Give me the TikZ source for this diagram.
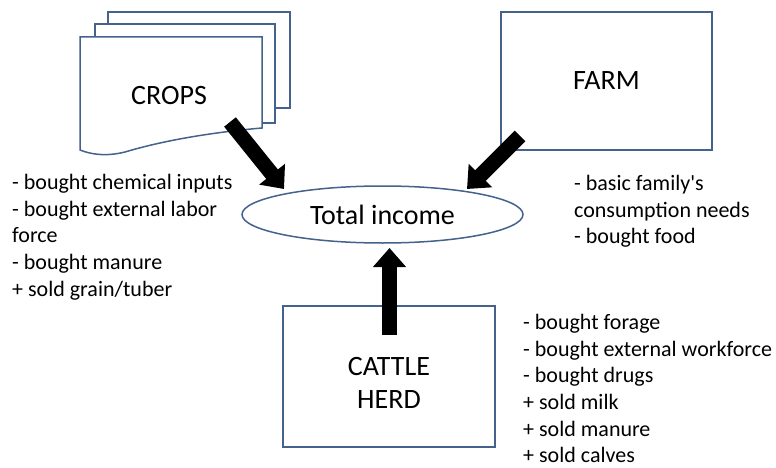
\documentclass[tikz,border=0pt]{standalone}
\usepackage{fontspec}
\setmainfont{Carlito}
\usepackage{xcolor}
\usepackage{tikz}
\usetikzlibrary{positioning, arrows.meta, shapes.geometric}

\definecolor{boxblue}{RGB}{68,98,140}

\begin{document}
\begin{tikzpicture}[x=1pt, y=-1pt,
    every node/.style={font=\fontsize{28}{33}\selectfont},
    box/.style={draw=boxblue, line width=1.5pt, fill=white},
    listtext/.style={anchor=north west, inner sep=0pt, align=left, font=\fontsize{22}{26.7}\selectfont},
    bigarrow/.style={line width=15pt, -{Triangle[width=32pt, length=19pt]}}]
    \useasboundingbox (0,0) rectangle (776,468);

    % stacked crop sheets
    \draw[box] (108,12) rectangle (290,108);
    \draw[box] (95,24) rectangle (275,123);
    \draw[box] (80,37) -- (262,37) -- (262,128)
        .. controls (215,132) and (165,140) .. (125,152)
        .. controls (105,157) and (90,154) .. (80,150) -- cycle;
    \node (crops) at (169,96) {CROPS};

    \node[box, minimum width=211pt, minimum height=138pt] (farm) at (606.5,81) {FARM};
    \node[box, minimum width=212pt, minimum height=141pt] (cattle) at (389,376.5) {};
    \node[align=center] (cattleLabel) at ([yshift=-6pt]cattle.center) {CATTLE\\HERD};
    \node[box, ellipse, minimum width=281pt, minimum height=57pt, inner sep=0pt] (income) at (382.5,214.5) {Total income};

    \coordinate (cropsTail) at (230,122);
    \coordinate (cropsTip) at (284,189);
    \coordinate (farmTail) at (520,136);
    \coordinate (farmTip) at (467,189);
    \coordinate (cattleTail) at (389.5,335);
    \coordinate (cattleTip) at (389.5,248);

    \draw[bigarrow] (cropsTail) -- (cropsTip);
    \draw[bigarrow] (farmTail) -- (farmTip);
    \draw[bigarrow] (cattleTail) -- (cattleTip);

    % cost and revenue items next to each part
    \node[listtext] (cropsList) at (12,174) {- bought chemical inputs\\- bought external labor\\force\\- bought manure\\+ sold grain/tuber};
    \node[listtext] (farmList) at (574,175) {- basic family\textquotesingle s\\consumption needs\\- bought food};
    \node[listtext] (cattleList) at (523,314) {- bought forage\\- bought external workforce\\- bought drugs\\+ sold milk\\+ sold manure\\+ sold calves};
\end{tikzpicture}
\end{document}
